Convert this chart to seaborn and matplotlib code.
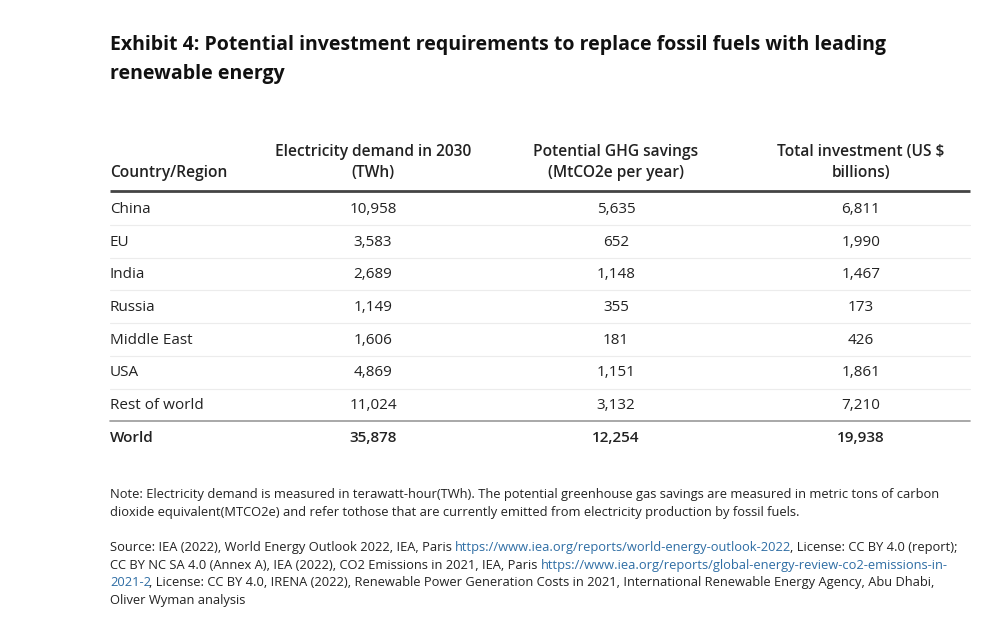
import matplotlib
matplotlib.use("Agg")
import matplotlib.pyplot as plt
import seaborn as sns

sns.set_theme(style="white")
plt.rcParams['font.family'] = ['Open Sans', 'DejaVu Sans']

title_lines = ["Exhibit 4: Potential investment requirements to replace fossil fuels with leading",
               "renewable energy"]
col_headers = [["", "Country/Region"],
               ["Electricity demand in 2030", "(TWh)"],
               ["Potential GHG savings", "(MtCO2e per year)"],
               ["Total investment (US $", "billions)"]]
regions = ["China", "EU", "India", "Russia", "Middle East", "USA", "Rest of world", "World"]
demand = [10958, 3583, 2689, 1149, 1606, 4869, 11024, 35878]
ghg = [5635, 652, 1148, 355, 181, 1151, 3132, 12254]
invest = [6811, 1990, 1467, 173, 426, 1861, 7210, 19938]

note_lines = ["Note: Electricity demand is measured in terawatt-hour(TWh). The potential greenhouse gas savings are measured in metric tons of carbon",
              "dioxide equivalent(MTCO2e) and refer tothose that are currently emitted from electricity production by fossil fuels."]
source_lines = [
    [("Source: IEA (2022), World Energy Outlook 2022, IEA, Paris ", False),
     ("https://www.iea.org/reports/world-energy-outlook-2022", True),
     (", License: CC BY 4.0 (report);", False)],
    [("CC BY NC SA 4.0 (Annex A), IEA (2022), CO2 Emissions in 2021, IEA, Paris ", False),
     ("https://www.iea.org/reports/global-energy-review-co2-emissions-in-", True)],
    [("2021-2", True),
     (", License: CC BY 4.0, IRENA (2022), Renewable Power Generation Costs in 2021, International Renewable Energy Agency, Abu Dhabi,", False)],
    [("Oliver Wyman analysis", False)],
]

W, H = 1004, 624
fig = plt.figure(figsize=(W / 100, H / 100), dpi=100)
ax = fig.add_axes([0, 0, 1, 1])
ax.set_xlim(0, W)
ax.set_ylim(H, 0)
ax.axis("off")

TXT = "#222222"
# title
for i, t in enumerate(title_lines):
    ax.text(110, 50 + i * 29, t, fontsize=14.0, fontweight="bold", color="#111111", va="baseline", ha="left")

# header
col_x = [110, 373, 616, 861]
for j, (l1, l2) in enumerate(col_headers):
    ha = "left" if j == 0 else "center"
    if l1:
        ax.text(col_x[j], 156, l1, fontsize=11.2, fontweight="semibold", color=TXT, va="baseline", ha=ha)
    ax.text(col_x[j], 177, l2, fontsize=11.2, fontweight="semibold", color=TXT, va="baseline", ha=ha)

ax.plot([110, 970], [191, 191], color="#444444", lw=2, solid_capstyle="butt")

row_y0, row_dy = 213, 32.7
for i, r in enumerate(regions):
    y = row_y0 + i * row_dy
    bold = (i == len(regions) - 1)
    fw = "semibold" if bold else "normal"
    ax.text(col_x[0], y, r, fontsize=11, color=TXT, va="baseline", ha="left", fontweight=fw)
    for j, vals in enumerate([demand, ghg, invest]):
        ax.text(col_x[j + 1], y, f"{vals[i]:,}", fontsize=11, color=TXT, va="baseline", ha="center", fontweight=fw)
    if i < len(regions) - 1:
        sep = row_y0 + i * row_dy + 12
        if i == len(regions) - 2:
            ax.plot([110, 970], [sep, sep], color="#999999", lw=1.2)
        else:
            ax.plot([110, 970], [sep, sep], color="#ececec", lw=0.8)

# notes
for i, t in enumerate(note_lines):
    ax.text(110, 498 + i * 18, t, fontsize=9.3, color=TXT, va="baseline", ha="left")

fig.canvas.draw()
renderer = fig.canvas.get_renderer()
inv = ax.transData.inverted()
for i, parts in enumerate(source_lines):
    x = 110
    y = 551 + i * 17.7
    for txt, link in parts:
        t = ax.text(x, y, txt, fontsize=9.3, color="#2e6da4" if link else TXT, va="baseline", ha="left")
        bb = t.get_window_extent(renderer=renderer)
        x = inv.transform((bb.x1, bb.y0))[0] - (2 if link else 0)

fig.savefig("out.png", dpi=100, facecolor="white")
